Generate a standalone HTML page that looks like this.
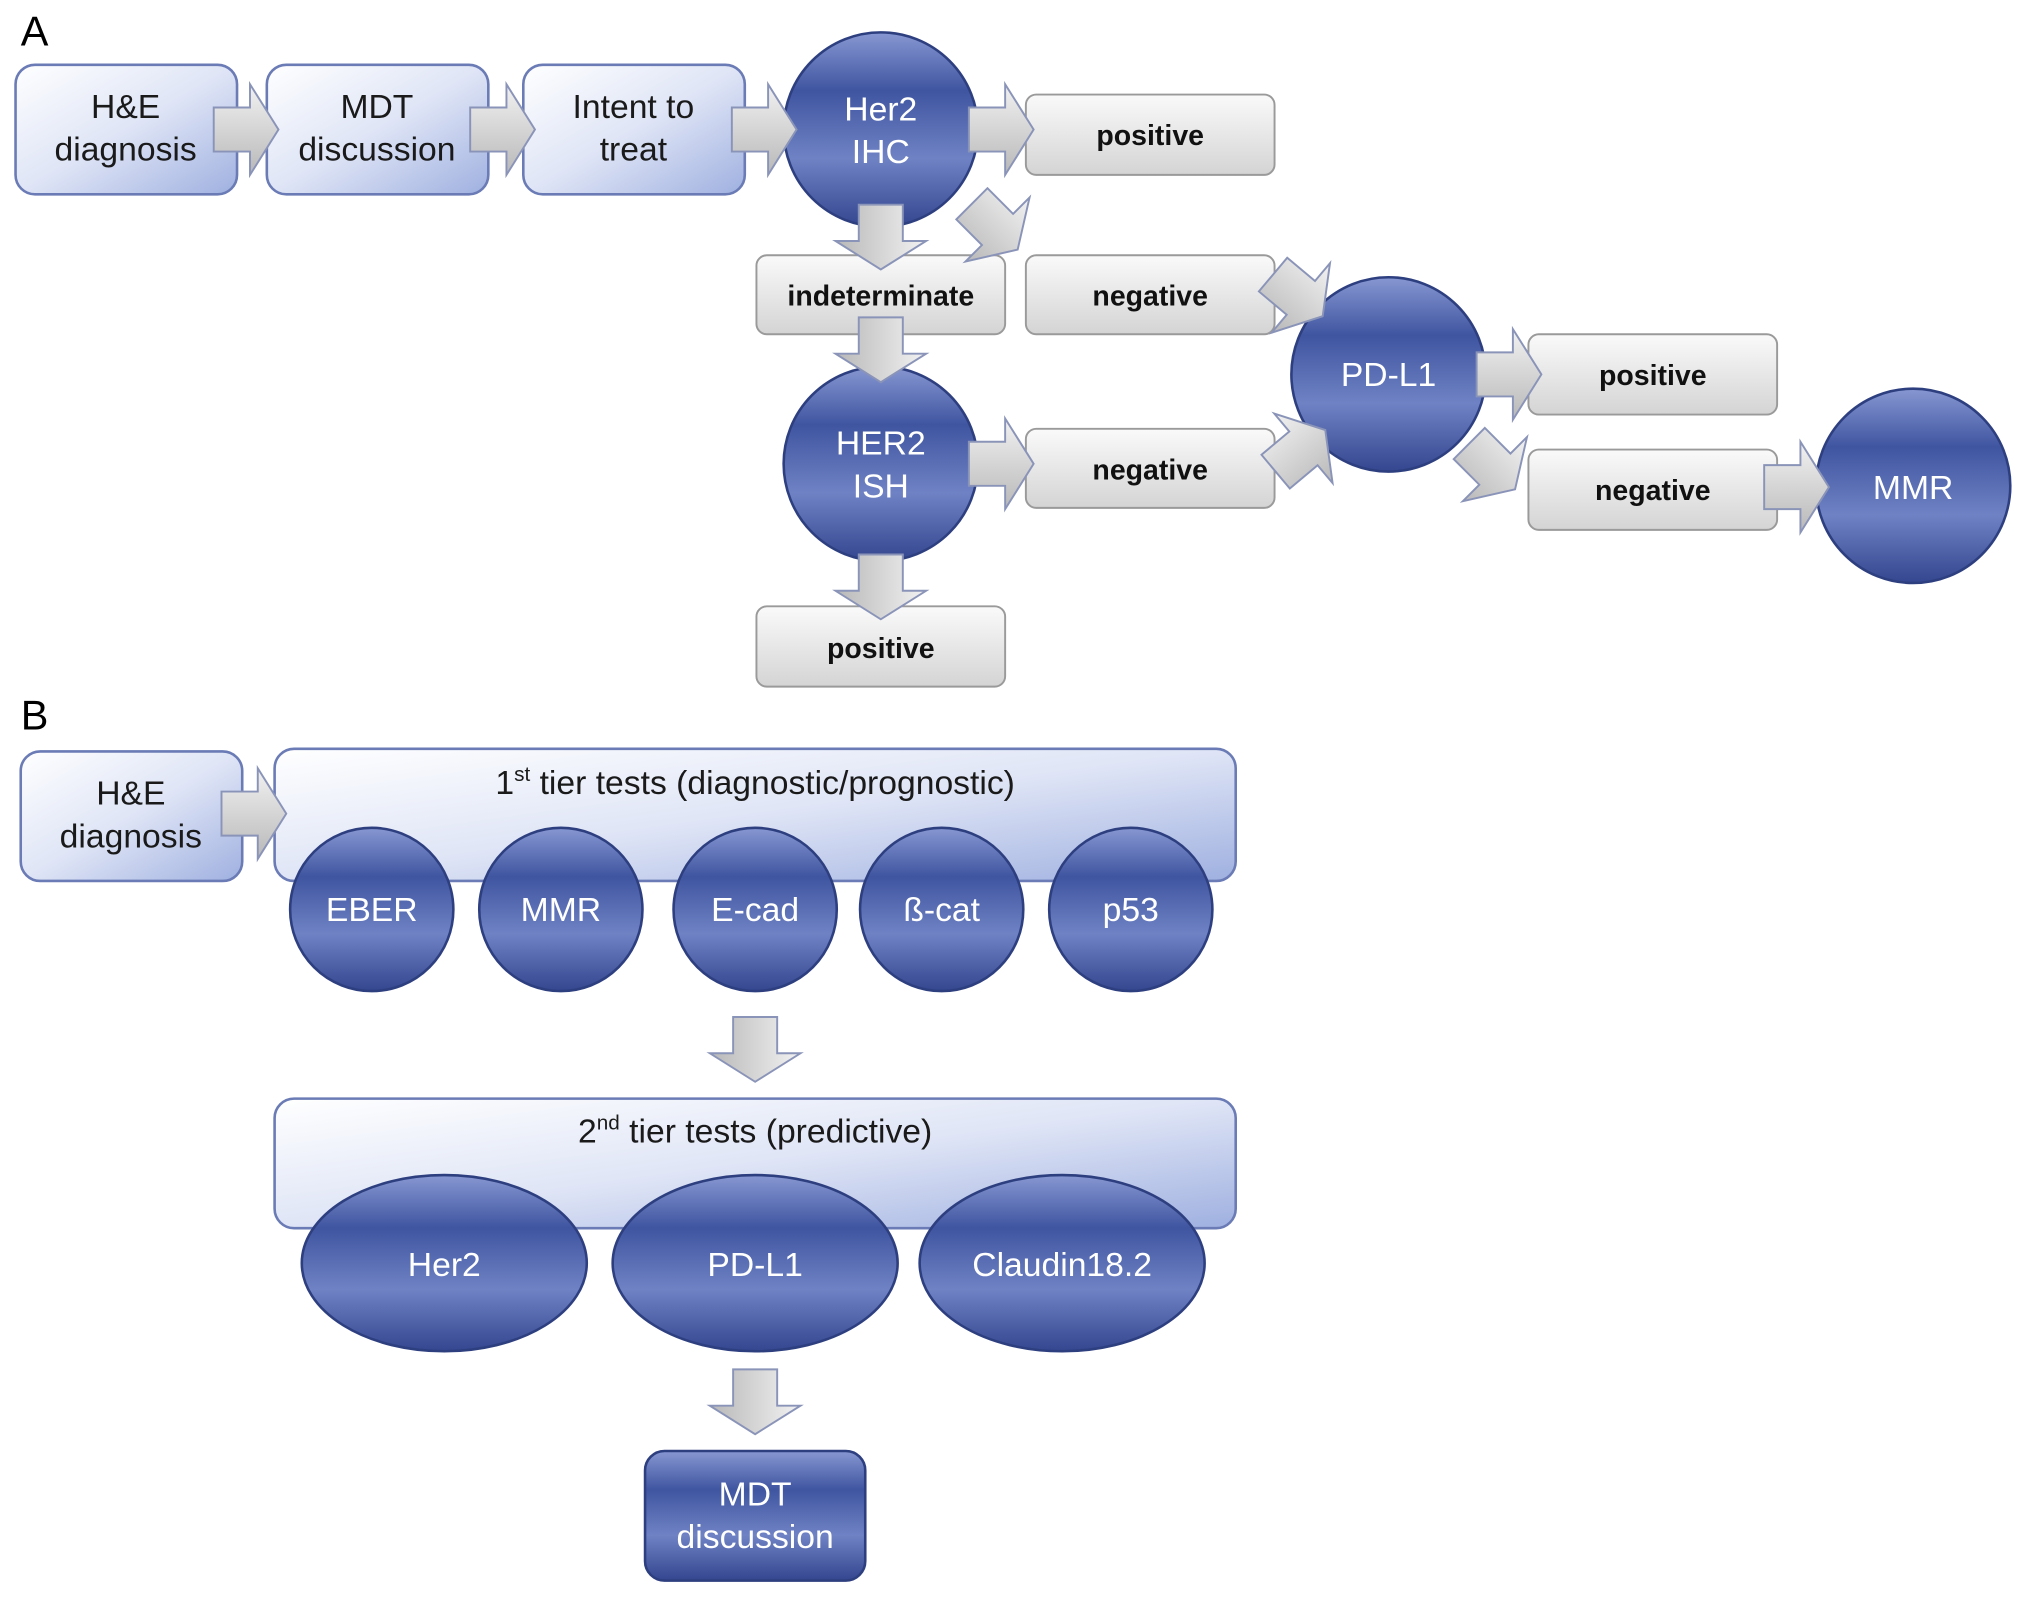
<!DOCTYPE html>
<html><head><meta charset="utf-8"><style>html,body{margin:0;padding:0;background:#fff;}svg{display:block}</style></head>
<body>
<svg width="2031" height="1600" viewBox="0 0 1568 1235" preserveAspectRatio="none" xmlns="http://www.w3.org/2000/svg" font-family="Liberation Sans, DejaVu Sans, sans-serif">
<defs>
<linearGradient id="lb" x1="0" y1="0" x2="1" y2="1">
<stop offset="0" stop-color="#ffffff"/><stop offset="0.5" stop-color="#dfe5f6"/><stop offset="1" stop-color="#9fb0e0"/></linearGradient>
<linearGradient id="gr" x1="0" y1="0" x2="0" y2="1">
<stop offset="0" stop-color="#fafafa"/><stop offset="1" stop-color="#d4d4d4"/></linearGradient>
<linearGradient id="ci" x1="0" y1="0" x2="0" y2="1">
<stop offset="0" stop-color="#8797d2"/><stop offset="0.3" stop-color="#3f55a0"/><stop offset="0.65" stop-color="#6f82c4"/><stop offset="1" stop-color="#33468f"/></linearGradient>
<linearGradient id="ar" x1="0" y1="0" x2="0" y2="1">
<stop offset="0" stop-color="#f2f2f2"/><stop offset="1" stop-color="#b8b8b8"/></linearGradient>
<path id="arw" d="M-25,-17 L3,-17 L3,-35 L25,0 L3,35 L3,17 L-25,17 Z" fill="url(#ar)" stroke="#8a94b8" stroke-width="1.5"/>
</defs>
<text x="16" y="35" font-size="32">A</text>
<text x="16" y="563" font-size="32">B</text>

<g stroke="#6a7bb5" stroke-width="2" fill="url(#lb)">
<rect x="12" y="50" width="171" height="100" rx="15"/>
<rect x="206" y="50" width="171" height="100" rx="15"/>
<rect x="404" y="50" width="171" height="100" rx="15"/>
<rect x="16" y="580" width="171" height="100" rx="15"/>
<rect x="212" y="578" width="742" height="102" rx="15"/>
<rect x="212" y="848" width="742" height="100" rx="15"/>
</g>
<g stroke="#9a9a9a" stroke-width="1.5" fill="url(#gr)">
<rect x="792" y="73" width="192" height="62" rx="8"/>
<rect x="584" y="197" width="192" height="61" rx="8"/>
<rect x="792" y="197" width="192" height="61" rx="8"/>
<rect x="792" y="331" width="192" height="61" rx="8"/>
<rect x="584" y="468" width="192" height="62" rx="8"/>
<rect x="1180" y="258" width="192" height="62" rx="8"/>
<rect x="1180" y="347" width="192" height="62" rx="8"/>
</g>

<g fill="url(#ci)" stroke="#2e3f80" stroke-width="2">
<circle cx="680" cy="100" r="75"/>
<circle cx="680" cy="358" r="75"/>
<circle cx="1072" cy="289" r="75"/>
<circle cx="1477" cy="375" r="75"/>
<circle cx="287" cy="702" r="63"/>
<circle cx="433" cy="702" r="63"/>
<circle cx="583" cy="702" r="63"/>
<circle cx="727" cy="702" r="63"/>
<circle cx="873" cy="702" r="63"/>
<ellipse cx="343" cy="975" rx="110" ry="68"/>
<ellipse cx="583" cy="975" rx="110" ry="68"/>
<ellipse cx="820" cy="975" rx="110" ry="68"/>
<rect x="498" y="1120" width="170" height="100" rx="15"/>
</g>

<use href="#arw" transform="translate(190,100)"/>
<use href="#arw" transform="translate(388,100)"/>
<use href="#arw" transform="translate(590,100)"/>
<use href="#arw" transform="translate(773,100)"/>
<use href="#arw" transform="translate(680,183) rotate(90)"/>
<use href="#arw" transform="translate(768,175) rotate(45)"/>
<use href="#arw" transform="translate(680,270) rotate(90)"/>
<use href="#arw" transform="translate(773,358)"/>
<use href="#arw" transform="translate(680,453) rotate(90)"/>
<use href="#arw" transform="translate(1002,228) rotate(40)"/>
<use href="#arw" transform="translate(1004,348) rotate(-40)"/>
<use href="#arw" transform="translate(1165,289)"/>
<use href="#arw" transform="translate(1152,360) rotate(45)"/>
<use href="#arw" transform="translate(1387,376)"/>
<use href="#arw" transform="translate(196,628)"/>
<use href="#arw" transform="translate(583,810) rotate(90)"/>
<use href="#arw" transform="translate(583,1082) rotate(90)"/>

<g font-size="26" fill="#1a1a1a" text-anchor="middle">
<text x="97" y="91">H&amp;E</text><text x="97" y="124">diagnosis</text>
<text x="291" y="91">MDT</text><text x="291" y="124">discussion</text>
<text x="489" y="91">Intent to</text><text x="489" y="124">treat</text>
<text x="101" y="621">H&amp;E</text><text x="101" y="654">diagnosis</text>
<text x="583" y="613">1<tspan font-size="16" dy="-10">st</tspan><tspan dy="10"> tier tests (diagnostic/prognostic)</tspan></text>
<text x="583" y="882">2<tspan font-size="16" dy="-10">nd</tspan><tspan dy="10"> tier tests (predictive)</tspan></text>
</g>
<g font-size="22" font-weight="bold" fill="#111" text-anchor="middle">
<text x="888" y="112">positive</text>
<text x="680" y="236">indeterminate</text>
<text x="888" y="236">negative</text>
<text x="888" y="370">negative</text>
<text x="680" y="508">positive</text>
<text x="1276" y="297">positive</text>
<text x="1276" y="386">negative</text>
</g>
<g font-size="26" fill="#ffffff" text-anchor="middle">
<text x="680" y="93">Her2</text><text x="680" y="126">IHC</text>
<text x="680" y="351">HER2</text><text x="680" y="384">ISH</text>
<text x="1072" y="298">PD-L1</text>
<text x="1477" y="385">MMR</text>
<text x="287" y="711">EBER</text>
<text x="433" y="711">MMR</text>
<text x="583" y="711">E-cad</text>
<text x="727" y="711">ß-cat</text>
<text x="873" y="711">p53</text>
<text x="343" y="985">Her2</text>
<text x="583" y="985">PD-L1</text>
<text x="820" y="985">Claudin18.2</text>
<text x="583" y="1162">MDT</text><text x="583" y="1195">discussion</text>
</g>
</svg>
</body></html>
